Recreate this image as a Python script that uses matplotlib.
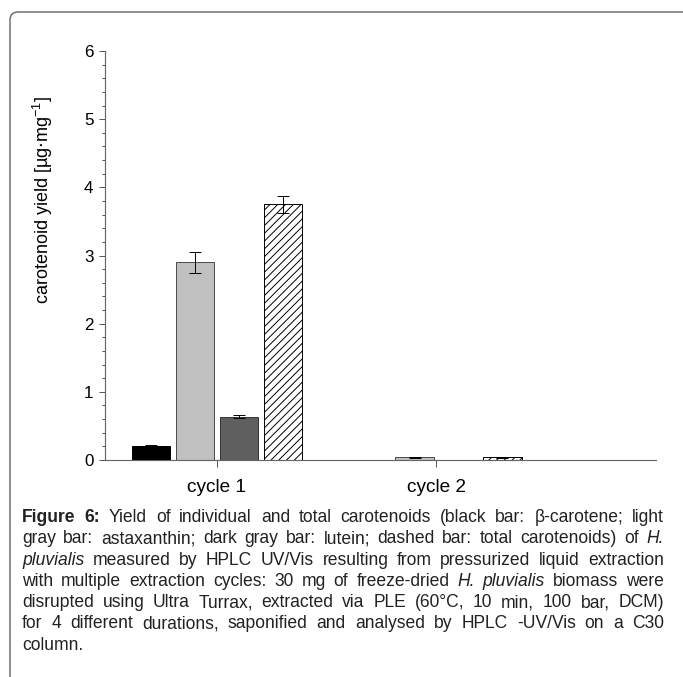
import matplotlib
matplotlib.use("Agg")
import matplotlib.pyplot as plt
import numpy as np
from matplotlib.patches import FancyBboxPatch
from matplotlib.ticker import MultipleLocator

plt.rcParams['font.family'] = ['Liberation Sans', 'DejaVu Sans']

# ---- data ----
cycles = ["cycle 1", "cycle 2"]
compounds = ["β-carotene", "astaxanthin", "lutein", "total carotenoids"]
beta_carotene = [0.21, 0.0]
astaxanthin = [2.90, 0.04]
lutein = [0.635, 0.0]
total = [3.75, 0.04]
beta_carotene_err = [0.01, 0.0]
astaxanthin_err = [0.15, 0.01]
lutein_err = [0.02, 0.0]
total_err = [0.13, 0.01]

series = [beta_carotene, astaxanthin, lutein, total]
errors = [beta_carotene_err, astaxanthin_err, lutein_err, total_err]
faces = ["#000000", "#c0c0c0", "#5f5f5f", "#ffffff"]
edges = ["#000000", "#4a4a4a", "#333333", "#000000"]
hatches = [None, None, None, "///"]

W, H, DPI = 683, 677, 70
fig = plt.figure(figsize=(W / DPI, H / DPI), dpi=DPI)


def px(x, y):
    return x / W, 1 - y / H


# axes placement
x0, x1, ytop, ybot = 105, 656, 51, 460
ax = fig.add_axes([x0 / W, 1 - ybot / H, (x1 - x0) / W, (ybot - ytop) / H])

xpos = np.arange(len(cycles))
width = 0.175
offsets = [-0.3, -0.1, 0.1, 0.3]
plt.rcParams['hatch.linewidth'] = 1.0
for vals, errs, fc, ec, hat, off in zip(series, errors, faces, edges, hatches, offsets):
    vals = np.asarray(vals)
    errs = np.asarray(errs)
    shown = vals > 0
    ax.bar(xpos[shown] + off, vals[shown], width, color=fc, edgecolor=ec,
           hatch=hat, linewidth=1.0, zorder=2)
    ax.errorbar(xpos[shown] + off, vals[shown], yerr=errs[shown], fmt="none",
                ecolor="black", elinewidth=1.0, capsize=6, capthick=1.0,
                zorder=3)

ax.set_xlim(-0.51, 2.0)
ax.set_ylim(0, 6)
ax.set_xticks(xpos)
ax.set_xticklabels(cycles, fontsize=19.5)
ax.yaxis.set_major_locator(MultipleLocator(1))
ax.yaxis.set_minor_locator(MultipleLocator(0.2))
ax.tick_params(axis="y", which="major", direction="out", length=6, width=1,
               color="#555555", labelsize=17.5, pad=6)
ax.tick_params(axis="y", which="minor", direction="out", length=3, width=1,
               color="#555555")
ax.tick_params(axis="x", which="major", direction="out", length=7, width=1,
               color="#555555", pad=13)
for s in ["top", "right"]:
    ax.spines[s].set_visible(False)
for s in ["left", "bottom"]:
    ax.spines[s].set_color("#666666")
    ax.spines[s].set_linewidth(1.2)
ax.set_ylabel(r"carotenoid yield [µg$\cdot$mg$^{\mathregular{-1}}$]", fontsize=18.5)
ax.yaxis.set_label_coords(-0.09, 0.635)

# rounded frame around figure and caption
frame = FancyBboxPatch(px(10, 700), (700 - 10) / W, (700 - 12) / H,
                       boxstyle="round,pad=0,rounding_size=0.012",
                       transform=fig.transFigure, fill=False,
                       edgecolor="#6a6a6a", linewidth=1.5, clip_on=False)
fig.patches.append(frame)

# caption, justified line by line
caption = [
    [("Figure 6:", "bold"), (" Yield of individual and total carotenoids (black bar: β-carotene; light", "normal")],
    [("gray bar: astaxanthin; dark gray bar: lutein; dashed bar: total carotenoids) of ", "normal"), ("H.", "italic")],
    [("pluvialis", "italic"), (" measured by HPLC UV/Vis resulting from pressurized liquid extraction", "normal")],
    [("with multiple extraction cycles: 30 mg of freeze-dried ", "normal"), ("H. pluvialis", "italic"), (" biomass were", "normal")],
    [("disrupted using Ultra Turrax, extracted via PLE (60°C, 10 min, 100 bar, DCM)", "normal")],
    [("for 4 different durations, saponified and analysed by HPLC -UV/Vis on a C30", "normal")],
    [("column.", "normal")],
]
cap_left, cap_right = 22, 664
baseline0, line_step = 522, 21.3
cap_size = 18

fig.canvas.draw()
renderer = fig.canvas.get_renderer()

probe1 = fig.text(0, 0, "a b", fontsize=cap_size)
probe2 = fig.text(0, 0, "ab", fontsize=cap_size)
space = probe1.get_window_extent(renderer).width - probe2.get_window_extent(renderer).width
probe1.remove()
probe2.remove()

for i, segs in enumerate(caption):
    words = []
    for txt, style in segs:
        for w in txt.split():
            words.append((w, style))
    y = baseline0 + i * line_step
    arts = []
    widths = []
    for w, style in words:
        kw = dict(fontsize=cap_size, va="baseline", ha="left", color="#222222")
        if style == "bold":
            kw["fontweight"] = "bold"
        elif style == "italic":
            kw["fontstyle"] = "italic"
        t = fig.text(0, 1 - y / H, w, **kw)
        arts.append(t)
        widths.append(t.get_window_extent(renderer).width)
    last = i == len(caption) - 1
    if last or len(words) == 1:
        gap = space
    else:
        gap = (cap_right - cap_left - sum(widths)) / (len(words) - 1)
    x = cap_left
    for t, wd in zip(arts, widths):
        t.set_x(x / W)
        x += wd + gap

fig.savefig("out.png", dpi=DPI)
